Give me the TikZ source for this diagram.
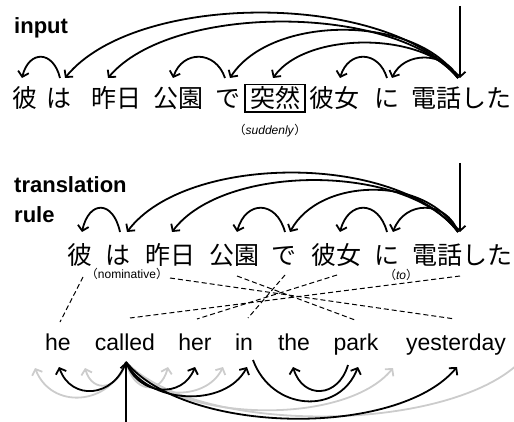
\documentclass[tikz,border=0pt]{standalone}
\usepackage{fontspec}
\setmainfont{Liberation Sans}
\newfontfamily\jp{Noto Sans CJK JP}
\usetikzlibrary{arrows.meta,calc}
\newcommand\jpbig{\jp\fontsize{25}{30}\selectfont}
\newcommand\cArc[4]{\draw[#4] (#1) .. controls ($(#1)!0.18!(#2)+(0,#3)$) and ($(#2)!0.18!(#1)+(0,#3)$) .. (#2);}
\begin{document}
\begin{tikzpicture}[x=1pt,y=-1pt,
  jw/.style={font=\jpbig, inner sep=0pt, anchor=base},
  ew/.style={font=\fontsize{23}{28}\selectfont, inner sep=0pt, anchor=base},
  lab/.style={font=\bfseries\fontsize{22}{26}\selectfont, inner sep=0pt, anchor=base west},
  note/.style={font=\fontsize{12}{14}\selectfont, inner sep=0pt},
  dep/.style={line width=1.8pt, -{Straight Barb[length=5pt,width=11pt]}},
  gdep/.style={dep, draw=black!20},
  align/.style={line width=1pt, dash pattern=on 5pt off 3pt}]
\useasboundingbox (0,0) rectangle (514,422);
\clip (0,0) rectangle (514,422);
% ---------- labels
\node[lab] (linput) at (14,34) {input};
\node[lab] (ltrans) at (14,193) {translation};
\node[lab] (lrule) at (14,223) {rule};
% ---------- input sentence
\node[jw] (a1) at (25,108) {彼};
\node[jw] (a2) at (59,108) {は};
\node[jw] (a3) at (116,108) {昨日};
\node[jw] (a4) at (178,108) {公園};
\node[jw] (a5) at (228,108) {で};
\node[jw, draw, line width=1.2pt, inner xsep=5pt, inner ysep=2pt] (a6) at (275,108) {突然};
\node[jw] (a7) at (334,108) {彼女};
\node[jw] (a8) at (387,108) {に};
\node[jw] (a9) at (461,108) {電話した};
\node[note] (sud) at (270,131) {{\jp （}\textit{suddenly}{\jp ）}};
% arc end points
\coordinate (r1) at (458,78);
\coordinate (r1top) at (460,6);
\coordinate (r1bot) at (460,78);
\coordinate (t1) at (22,78);
\coordinate (t2) at (65,78);
\coordinate (s2) at (60,78);
\coordinate (t3) at (108,78);
\coordinate (t4) at (173,78);
\coordinate (t5) at (230,78);
\coordinate (s5) at (225,78);
\coordinate (t6) at (273,78);
\coordinate (t7) at (340,78);
\coordinate (t8) at (392,78);
\coordinate (s8) at (387,78);
\draw[dep] (r1top) -- (r1bot);
\cArc{s2}{t1}{-28}{dep}
\cArc{r1}{t2}{-87}{dep}
\cArc{r1}{t3}{-75}{dep}
\cArc{s5}{t4}{-28}{dep}
\cArc{r1}{t5}{-64}{dep}
\cArc{r1}{t6}{-47}{dep}
\cArc{s8}{t7}{-28}{dep}
\cArc{r1}{t8}{-27}{dep}
% ---------- translation rule
\node[jw] (b1) at (80,265) {彼};
\node[jw] (b2) at (118,265) {は};
\node[jw] (b3) at (170,265) {昨日};
\node[jw] (b4) at (234,265) {公園};
\node[jw] (b5) at (284,265) {で};
\node[jw] (b7) at (336,265) {彼女};
\node[jw] (b8) at (387,265) {に};
\node[jw] (b9) at (462,265) {電話した};
\node[note] (nom) at (127,274) {{\jp （}nominative{\jp ）}};
\node[note] (to) at (401,275) {{\jp （}\textit{to}{\jp ）}};
\coordinate (r2) at (458,232);
\coordinate (r2top) at (460,163);
\coordinate (r2bot) at (460,232);
\coordinate (u1) at (82,232);
\coordinate (u2) at (127,232);
\coordinate (v2) at (120,232);
\coordinate (u3) at (172,232);
\coordinate (u4) at (237,232);
\coordinate (u5) at (290,232);
\coordinate (v5) at (285,232);
\coordinate (u7) at (340,232);
\coordinate (u8) at (393,232);
\coordinate (v8) at (387,232);
\draw[dep] (r2top) -- (r2bot);
\cArc{v2}{u1}{-32}{dep}
\cArc{r2}{u2}{-79}{dep}
\cArc{r2}{u3}{-69}{dep}
\cArc{v5}{u4}{-32}{dep}
\cArc{r2}{u5}{-56}{dep}
\cArc{v8}{u7}{-32}{dep}
\cArc{r2}{u8}{-32}{dep}
% ---------- English
\node[ew] (e1) at (58,350) {he};
\node[ew] (e2) at (125,350) {called};
\node[ew] (e3) at (195,350) {her};
\node[ew] (e4) at (244,350) {in};
\node[ew] (e5) at (294,350) {the};
\node[ew] (e6) at (356,350) {park};
\node[ew] (e7) at (456,350) {yesterday};
% alignment lines
\coordinate (j1) at (83,277);   \coordinate (k1) at (60,322);
\coordinate (j3) at (170,278);  \coordinate (k7) at (455,319);
\coordinate (j4) at (237,276);  \coordinate (k6) at (355,320);
\coordinate (j5) at (285,275);  \coordinate (k4) at (248,318);
\coordinate (j7) at (337,275);  \coordinate (k3) at (197,319);
\coordinate (j9) at (460,276);  \coordinate (k2) at (130,318);
\draw[align] (j1) -- (k1);
\draw[align] (j3) -- (k7);
\draw[align] (j4) -- (k6);
\draw[align] (j5) -- (k4);
\draw[align] (j7) -- (k3);
\draw[align] (j9) -- (k2);
% English dependency arcs
\coordinate (er) at (126,362);
\coordinate (erbot) at (126,422);
\coordinate (g1) at (35,368);
\coordinate (g2) at (85,368);
\coordinate (g3) at (168,367);
\coordinate (g4) at (223,367);
\coordinate (g5) at (393,368);
\coordinate (g6) at (524,358);
\coordinate (f1) at (59,367);
\coordinate (f3) at (195,367);
\coordinate (f4) at (247,367);
\coordinate (f4s) at (253,360);
\coordinate (f5) at (293,367);
\coordinate (f6) at (358,367);
\coordinate (f6s) at (348,365);
\coordinate (f7) at (457,367);
\cArc{er}{g1}{43}{gdep}
\cArc{er}{g2}{27}{gdep}
\cArc{er}{g3}{30}{gdep}
\cArc{er}{g4}{37}{gdep}
\cArc{er}{g5}{60}{gdep}
\cArc{er}{g6}{75}{gdep}
\draw[dep] (erbot) -- (er);
\cArc{er}{f1}{35}{dep}
\cArc{er}{f3}{33}{dep}
\cArc{er}{f4}{42}{dep}
\cArc{er}{f7}{72}{dep}
\cArc{f4s}{f6}{50}{dep}
\cArc{f6s}{f5}{33}{dep}
\end{tikzpicture}
\end{document}
